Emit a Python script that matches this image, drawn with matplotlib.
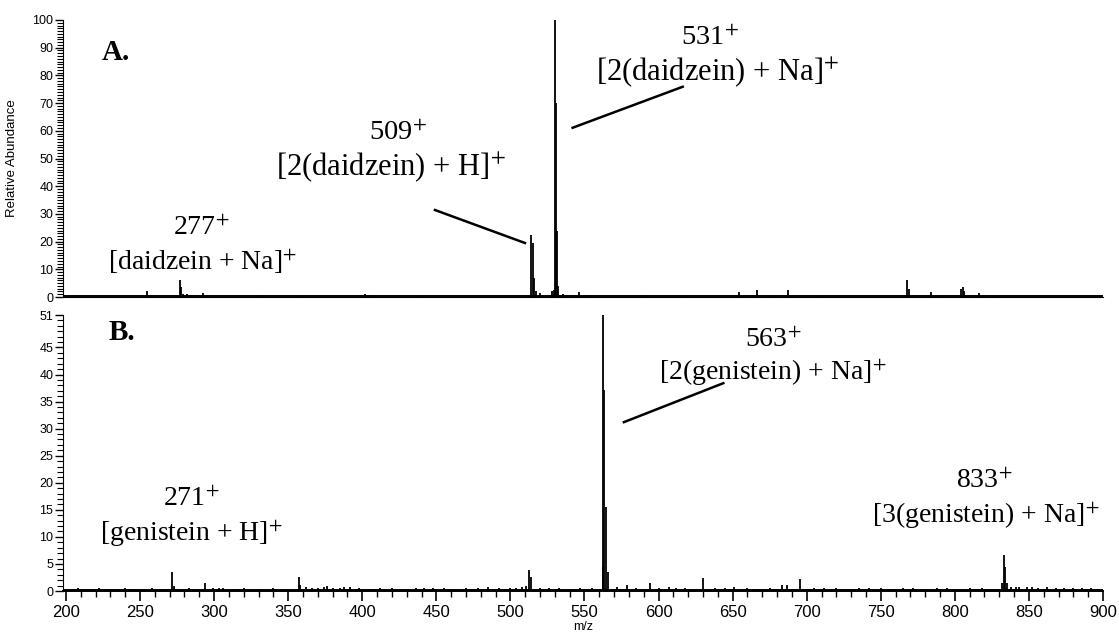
import numpy as np
import matplotlib
matplotlib.use('Agg')
import matplotlib.pyplot as plt
from matplotlib.ticker import MultipleLocator

plt.rcParams['font.family'] = ['Liberation Sans', 'DejaVu Sans']
plt.rcParams['mathtext.fontset'] = 'stix'

# spectrum A (daidzein): m/z and relative abundance of sticks
mz_a = [255, 277, 277.8, 279, 282, 285, 292.5, 296, 329, 360, 402, 408, 440,
        514.2, 515.3, 516, 517, 520, 528, 529.3, 530.3, 530.8, 531.5, 532.3,
        535.8, 546, 549, 551, 589.7, 618.5, 654, 666.4, 676, 687.5, 709.5,
        733.5, 768, 768.8, 784, 791, 804, 805.5, 806.5, 816, 826.4]
int_a = [2.2, 6.1, 3.5, 1.2, 1.2, 0.8, 1.5, 0.4, 0.8, 0.3, 1.0, 0.8, 0.3,
         22.4, 19.5, 6.8, 2.0, 1.6, 2.2, 2.5, 100, 70, 24, 4.0,
         1.0, 1.8, 0.8, 0.8, 0.6, 0.4, 1.8, 2.6, 0.3, 2.7, 0.3,
         0.3, 6.3, 3.0, 1.8, 0.3, 3.0, 3.6, 2.0, 1.6, 0.3]

# spectrum B (genistein)
mz_b = [208, 215, 222, 231, 240, 246, 258, 264, 271.9, 272.6, 283, 288, 293.7,
        299, 303, 306, 313, 320, 331, 340, 348, 357.4, 358.2, 362, 366, 370,
        374, 376, 380, 385, 388, 391.5, 398, 405, 412, 420, 428, 436, 442,
        448, 455, 462, 470, 478, 485, 492, 500, 504, 508, 510.5, 512.4, 514,
        520, 526, 533, 540, 547, 555, 562.2, 562.8, 563.5, 564.4, 565.8, 572,
        579, 585, 594.5, 600, 606.8, 612, 618, 624, 630.2, 638, 645, 651, 660,
        668, 675, 683, 687, 695.4, 705, 712, 720, 728, 735, 742, 750, 758,
        765, 772, 780, 788, 795, 802, 810, 818, 825, 832, 833.2, 834, 835,
        838, 841, 843, 848.7, 852, 856, 862, 868, 874, 880, 886, 892, 897]
int_b = [0.5, 0.4, 0.6, 0.4, 0.5, 0.4, 0.5, 0.4, 3.6, 1.0, 0.5, 0.4, 1.55,
         0.6, 0.5, 0.6, 0.4, 0.5, 0.4, 0.5, 0.4, 2.6, 1.2, 0.8, 0.6, 0.5,
         0.8, 1.0, 0.6, 0.5, 0.7, 0.8, 0.5, 0.4, 0.6, 0.5, 0.4, 0.6, 0.5,
         0.6, 0.5, 0.4, 0.6, 0.5, 0.7, 0.6, 0.5, 0.6, 0.8, 1.0, 3.9, 2.5,
         0.5, 0.6, 0.5, 0.4, 0.6, 0.5, 4.5, 51, 37.2, 15.6, 3.6, 0.7,
         1.2, 0.6, 1.5, 0.5, 0.8, 0.6, 0.5, 0.4, 2.4, 0.5, 0.6, 0.7, 0.5,
         0.4, 0.6, 1.2, 1.2, 2.2, 0.5, 0.6, 0.5, 0.4, 0.6, 0.5, 0.6, 0.4,
         0.6, 0.5, 0.4, 0.6, 0.5, 0.4, 0.6, 0.5, 0.4, 1.5, 6.6, 4.5, 1.5,
         0.8, 0.8, 0.7, 0.7, 0.8, 0.6, 0.7, 0.5, 0.6, 0.5, 0.6, 0.5, 0.4]

yticks_a = [0, 10, 20, 30, 40, 50, 60, 70, 80, 90, 100]
yticks_b = [0, 5, 10, 15, 20, 25, 30, 35, 40, 45, 51]

W, H = 1119, 634
fig = plt.figure(figsize=(W / 100, H / 100), dpi=100)
axA = fig.add_axes([63 / W, 1 - 297 / H, 1040 / W, 277 / H])
axB = fig.add_axes([63 / W, 1 - 591 / H, 1040 / W, 276 / H])

for ax, mz, inten, yt in [(axA, mz_a, int_a, yticks_a), (axB, mz_b, int_b, yticks_b)]:
    ax.vlines(mz, 0, inten, color='black', lw=1.3)
    ax.axhline(0.25, color='black', lw=1.4)
    ax.set_xlim(198, 900)
    ax.set_ylim(0, yt[-1])
    ax.spines['top'].set_visible(False)
    ax.spines['right'].set_visible(False)
    ax.set_yticks(yt)
    ax.yaxis.set_minor_locator(MultipleLocator(1))
    ax.tick_params(axis='y', which='major', length=6, width=1, labelsize=9, pad=1)
    ax.tick_params(axis='y', which='minor', length=4, width=0.8)

axA.tick_params(axis='x', which='both', bottom=False, labelbottom=False)
axA.set_ylabel('Relative Abundance', fontsize=9.5, labelpad=2)
axA.yaxis.set_label_coords(-0.043, 0.5)

axB.set_xticks(range(200, 901, 50))
axB.xaxis.set_minor_locator(MultipleLocator(10))
axB.tick_params(axis='x', which='major', length=7, width=1.2, labelsize=12, pad=3)
axB.tick_params(axis='x', which='minor', length=4, width=1)
axB.spines['bottom'].set_linewidth(1.4)
axB.set_xlabel('m/z', fontsize=9, labelpad=1)

# leader lines
axA.plot([449.1, 509.8], [31.4, 19.5], color='black', lw=1.8)
axA.plot([542.0, 616.3], [61.1, 75.9], color='black', lw=1.8)
axB.plot([576.6, 643.7], [31.2, 38.4], color='black', lw=1.8)

serif = ['Liberation Serif', 'DejaVu Serif']


def label(x, y, s, size=20, weight='normal'):
    fig.text(x / W, 1 - y / H, s, ha='center', va='center', fontsize=size,
             family=serif, fontweight=weight)


label(116, 52, 'A.', size=21, weight='bold')
label(122, 332, 'B.', size=21, weight='bold')
label(710, 38, '531$^{+}$', size=20.5)
label(718, 72, '[2(daidzein) + Na]$^{+}$', size=22)
label(398, 133, '509$^{+}$', size=20.5)
label(391, 167, '[2(daidzein) + H]$^{+}$', size=22)
label(201, 228, '277$^{+}$')
label(203, 262, '[daidzein + Na]$^{+}$')
label(773, 340, '563$^{+}$')
label(773, 373, '[2(genistein) + Na]$^{+}$')
label(191, 499, '271$^{+}$')
label(192, 534, '[genistein + H]$^{+}$')
label(984, 481, '833$^{+}$')
label(986, 516, '[3(genistein) + Na]$^{+}$')

fig.savefig('out.png', dpi=100)
